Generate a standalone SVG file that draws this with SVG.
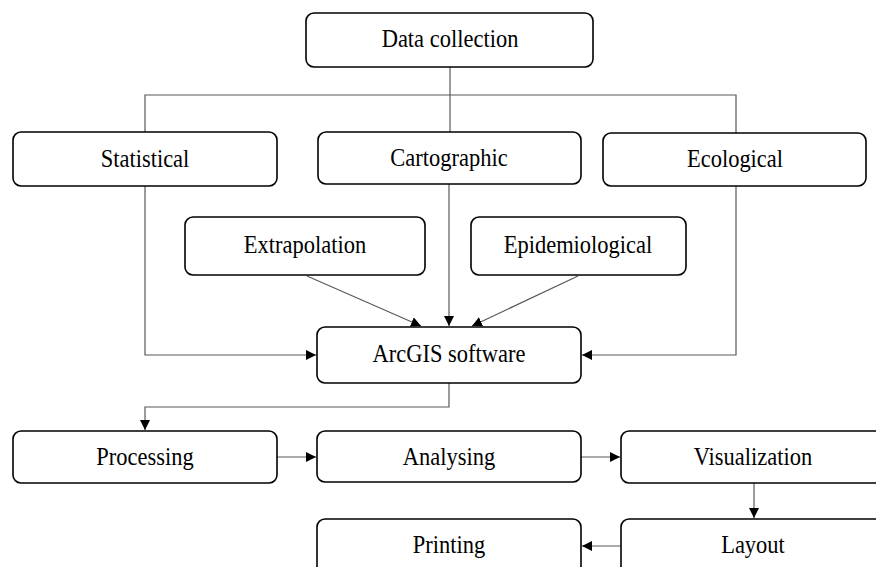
<svg xmlns="http://www.w3.org/2000/svg" width="876" height="567" viewBox="0 0 876 567">
<defs>
<style>
.box{fill:#fff;stroke:#000;stroke-width:1.6}
.lbl{font-family:"Liberation Serif","Times New Roman",serif;font-size:22.5px;fill:#000;text-anchor:middle}
.con{fill:none;stroke:#595959;stroke-width:1.2}
</style>
<marker id="ah" viewBox="0 0 10 10" refX="10" refY="5" markerWidth="10" markerHeight="10" markerUnits="userSpaceOnUse" orient="auto">
<path d="M0,0 L10,5 L0,10 Z" fill="#000"/>
</marker>
</defs>
<rect width="876" height="567" fill="#fff"/>
<g id="connectors">
<path class="con" d="M450,67 V132"/>
<path class="con" d="M145,132 V95 H736 V133"/>
<path class="con" d="M145,186 V355 H316" marker-end="url(#ah)"/>
<path class="con" d="M736,186 V355 H582" marker-end="url(#ah)"/>
<path class="con" d="M449,184 V326" marker-end="url(#ah)"/>
<path class="con" d="M307,276 L421,326" marker-end="url(#ah)"/>
<path class="con" d="M578,276 L472,326" marker-end="url(#ah)"/>
<path class="con" d="M449,383 V407 H145 V430" marker-end="url(#ah)"/>
<path class="con" d="M277,457 H316" marker-end="url(#ah)"/>
<path class="con" d="M581,457 H620" marker-end="url(#ah)"/>
<path class="con" d="M754,483 V518" marker-end="url(#ah)"/>
<path class="con" d="M621,546 H582" marker-end="url(#ah)"/>
</g>
<g id="data-collection"><rect class="box" x="306" y="13" width="287" height="54" rx="8"/><text class="lbl" transform="translate(450,47) scale(1,1.15)">Data collection</text></g>
<g id="statistical"><rect class="box" x="13" y="132" width="264" height="54" rx="8"/><text class="lbl" transform="translate(145,167) scale(1,1.15)">Statistical</text></g>
<g id="cartographic"><rect class="box" x="318" y="132" width="263" height="52" rx="8"/><text class="lbl" transform="translate(449,166) scale(1,1.15)">Cartographic</text></g>
<g id="ecological"><rect class="box" x="603" y="133" width="263" height="53" rx="8"/><text class="lbl" transform="translate(735,167) scale(1,1.15)">Ecological</text></g>
<g id="extrapolation"><rect class="box" x="185" y="217" width="240" height="58" rx="8"/><text class="lbl" transform="translate(305,253) scale(1,1.15)">Extrapolation</text></g>
<g id="epidemiological"><rect class="box" x="471" y="217" width="215" height="58" rx="8"/><text class="lbl" transform="translate(578,253) scale(1,1.15)">Epidemiological</text></g>
<g id="arcgis"><rect class="box" x="317" y="327" width="264" height="56" rx="8"/><text class="lbl" transform="translate(449,362) scale(1,1.15)">ArcGIS software</text></g>
<g id="processing"><rect class="box" x="13" y="431" width="264" height="52" rx="8"/><text class="lbl" transform="translate(145,465) scale(1,1.15)">Processing</text></g>
<g id="analysing"><rect class="box" x="317" y="431" width="264" height="51" rx="8"/><text class="lbl" transform="translate(449,465) scale(1,1.15)">Analysing</text></g>
<g id="visualization"><rect class="box" x="621" y="431" width="266" height="52" rx="8"/><text class="lbl" transform="translate(753,465) scale(1,1.15)">Visualization</text></g>
<g id="layout"><rect class="box" x="621" y="519" width="266" height="56" rx="8"/><text class="lbl" transform="translate(753,553) scale(1,1.15)">Layout</text></g>
<g id="printing"><rect class="box" x="317" y="519" width="264" height="56" rx="8"/><text class="lbl" transform="translate(449,553) scale(1,1.15)">Printing</text></g>
</svg>
